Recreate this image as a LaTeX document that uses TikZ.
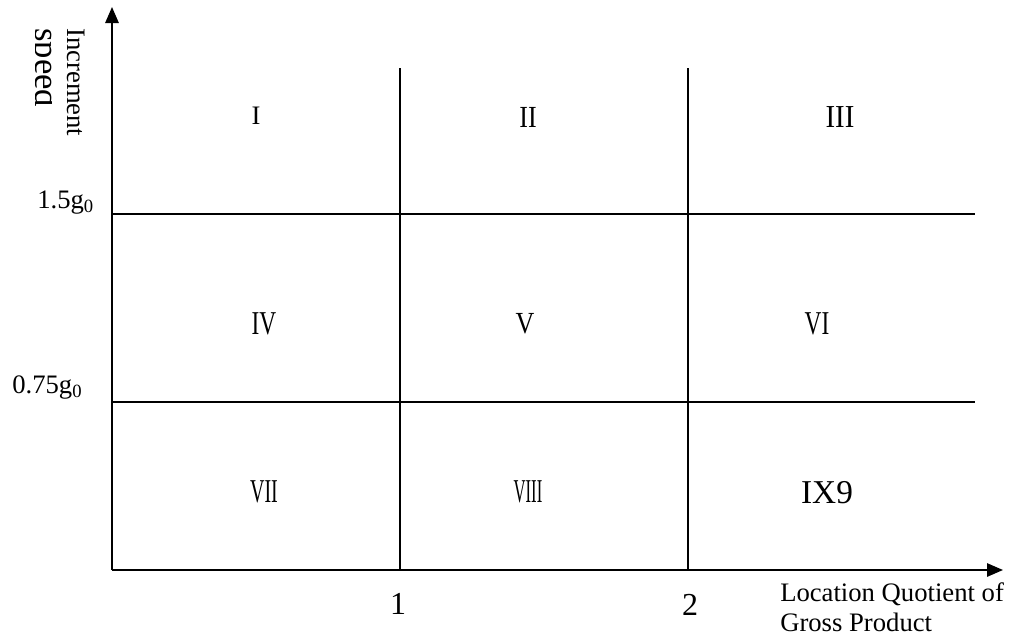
\documentclass[tikz,border=0pt]{standalone}
\usepackage{fontspec}
\setmainfont{Liberation Serif}
\usetikzlibrary{arrows.meta}
\tikzset{
  axis/.style={line width=1.4pt,-{Triangle[length=12pt,width=10pt]}},
  gridline/.style={line width=1.1pt},
  lab/.style={inner sep=0pt,font=\fontsize{20}{23}\selectfont},
  roman/.style={inner sep=0pt,font=\fontsize{25}{28}\selectfont},
  tick/.style={inner sep=0pt,font=\fontsize{24}{28}\selectfont},
}
\begin{document}
\begin{tikzpicture}[x=0.75pt,y=-0.75pt]
\useasboundingbox (0,0) rectangle (1010,639);
\coordinate (O) at (112,570);
\coordinate (Ytop) at (112,7);
\coordinate (Xend) at (1003,570);
\coordinate (h1l) at (112,214);
\coordinate (h1r) at (975,214);
\coordinate (h2l) at (112,402);
\coordinate (h2r) at (975,402);
\coordinate (v1t) at (400,68);
\coordinate (v1b) at (400,570);
\coordinate (v2t) at (688,68);
\coordinate (v2b) at (688,570);
\draw[gridline] (h1l) -- (h1r);
\draw[gridline] (h2l) -- (h2r);
\draw[gridline] (v1t) -- (v1b);
\draw[gridline] (v2t) -- (v2b);
\draw[axis] (O) -- (Ytop);
\draw[axis] (O) -- (Xend);
% y-axis label
\node[lab,rotate=-90,anchor=base west] (ylab1) at (67,28) {Increment};
\begin{scope}
\clip (35,0) rectangle (51,140);
\node[lab,font=\fontsize{26}{30}\selectfont,rotate=-90,anchor=base west] (ylab2) at (35,28) {speed};
\end{scope}
% y ticks
\node[lab,anchor=base west] (t15) at (37,208) {1.5g\textsubscript{0}};
\node[lab,anchor=base west] (t075) at (12,393) {0.75g\textsubscript{0}};
% x ticks
\node[tick] (x1) at (398,604) {1};
\node[tick] (x2) at (690,605) {2};
\node[lab,anchor=north west,align=left] (xlab) at (780,582) {Location Quotient of\\Gross Product};
% regions
\node[roman,font=\fontsize{20}{24}\selectfont] (r1) at (256,116) {I};
\node[roman,font=\fontsize{23}{26}\selectfont] (r2) at (528,117) {\scalebox{0.85}[1]{II}};
\node[roman,font=\fontsize{24}{26}\selectfont] (r3) at (840,117) {\scalebox{0.9}[1]{III}};
\node[roman] (r4) at (264,324) {\scalebox{0.7}[1]{IV}};
\node[roman,font=\fontsize{23}{26}\selectfont] (r5) at (525,324) {\scalebox{0.85}[1]{V}};
\node[roman] (r6) at (817,324) {\scalebox{0.7}[1]{VI}};
\node[roman] (r7) at (264,492) {\scalebox{0.6}[1]{VII}};
\node[roman] (r8) at (528,492) {\scalebox{0.5}[1]{VIII}};
\node[roman] (r9) at (827,493) {IX9};
\end{tikzpicture}
\end{document}
